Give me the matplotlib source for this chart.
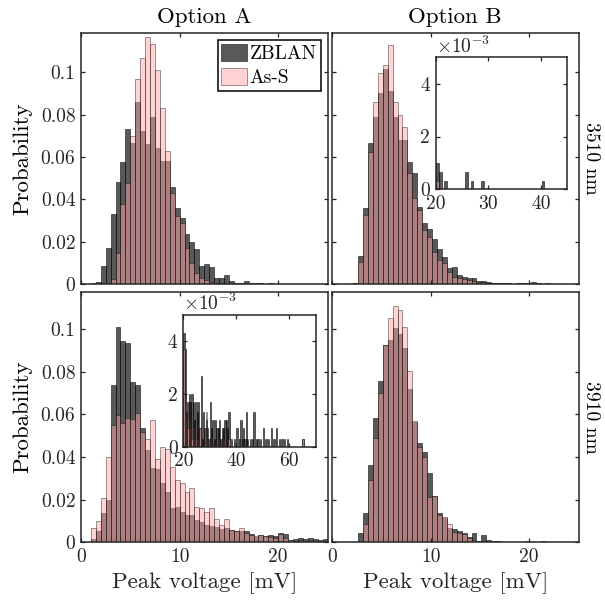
import numpy as np
import matplotlib.pyplot as plt

plt.rcParams['font.family'] = 'cmr10'
plt.rcParams['mathtext.fontset'] = 'cm'
plt.rcParams['axes.unicode_minus'] = False

bin_w = 0.5

# Option A, 3510 nm (bins of 0.5 mV starting at 1.0)
a1_start = 1.0
a1_zblan = [0.0006, 0.0011, 0.0085, 0.0169, 0.0329, 0.0483, 0.0578, 0.0732, 0.0668, 0.0861,
            0.0723, 0.0661, 0.0787, 0.0641, 0.0581, 0.0581, 0.0457, 0.0357, 0.0313, 0.0236,
            0.0200, 0.0164, 0.0085, 0.0094, 0.0079, 0.0027, 0.0027, 0.0043, 0.0016, 0.0006,
            0.0003, 0.0016, 0.0006, 0.0006, 0.0003, 0.0, 0.0003, 0.0]
a1_ass = [0.0, 0.0, 0.0, 0.0003, 0.0022, 0.0145, 0.0378, 0.0476, 0.0699, 0.0969,
          0.1066, 0.1165, 0.1132, 0.1008, 0.0830, 0.0630, 0.0428, 0.0320, 0.0287, 0.0170,
          0.0098, 0.0054, 0.0027, 0.0019, 0.0011, 0.0006]

# Option B, 3510 nm
b1_start = 2.15
b1_zblan = [0.0006, 0.0132, 0.0357, 0.0665, 0.0787, 0.0900, 0.1014, 0.0909, 0.0787, 0.0680,
            0.0680, 0.0578, 0.0526, 0.0365, 0.0290, 0.0258, 0.0211, 0.0164, 0.0129, 0.0074,
            0.0082, 0.0042, 0.0032, 0.0027, 0.0027, 0.0016, 0.0016, 0.0008, 0.0006, 0.0006,
            0.0003, 0.0003, 0.0, 0.0006, 0.0003, 0.0006]
b1_ass = [0.0003, 0.0106, 0.0326, 0.0625, 0.0860, 0.0995, 0.1035, 0.1128, 0.0860, 0.0798,
          0.0740, 0.0523, 0.0405, 0.0350, 0.0255, 0.0220, 0.0153, 0.0113, 0.0101, 0.0058,
          0.0035, 0.0027, 0.0022, 0.0019, 0.0016, 0.0008, 0.0008, 0.0003, 0.0003, 0.0,
          0.0003, 0.0, 0.0, 0.0003, 0.0, 0.0003]
b1_tail_zblan_x = [20.15, 20.65, 21.65, 25.65, 26.65, 28.65, 40.15]
b1_tail_zblan = [0.0010, 0.00067, 0.00033, 0.00067, 0.00033, 0.00033, 0.00033]
b1_tail_ass_x = [20.15]
b1_tail_ass = [0.00033]

# Option A, 3910 nm
a2_start = 0.5
a2_zblan = [0.0003, 0.0016, 0.0053, 0.0139, 0.0198, 0.0738, 0.1010, 0.0944, 0.0936, 0.0753,
            0.0738, 0.0534, 0.0433, 0.0347, 0.0344, 0.0277, 0.0238, 0.0163, 0.0167, 0.0144,
            0.0130, 0.0128, 0.0105, 0.0097, 0.0081, 0.0078, 0.0073, 0.0063, 0.0066, 0.0058,
            0.0053, 0.0053, 0.0053, 0.0037, 0.0027, 0.0034, 0.0031, 0.0034, 0.0031]
a2_ass = [0.0, 0.0066, 0.0100, 0.0209, 0.0402, 0.0550, 0.0597, 0.0558, 0.0581, 0.0577,
          0.0608, 0.0519, 0.0484, 0.0573, 0.0390, 0.0448, 0.0438, 0.0355, 0.0292, 0.0277,
          0.0238, 0.0256, 0.0167, 0.0159, 0.0144, 0.0159, 0.0109, 0.0081, 0.0109, 0.0058,
          0.0053, 0.0066, 0.0042, 0.0034, 0.0031, 0.0034, 0.0031, 0.0027, 0.0022]
a2_tail_zblan_x = [20.0, 20.5, 21.0, 21.5, 22.0, 22.5, 23.0, 23.5, 24.0, 24.5, 25.0, 25.5,
                   26.0, 26.5, 27.0, 27.5, 28.0, 28.5, 29.0, 29.5, 30.0, 30.5, 31.0, 31.5,
                   32.0, 32.5, 33.0, 33.5, 34.0, 34.5, 35.0, 35.5, 36.0, 36.5, 37.0, 38.0,
                   39.0, 40.0, 41.0, 41.5, 42.0, 42.5, 43.0, 43.5, 44.0, 45.0, 46.0, 46.5,
                   47.5, 48.0, 49.0, 50.0, 51.0, 52.0, 53.0, 54.0, 55.0, 56.0, 57.0, 58.0,
                   59.0, 65.0]
a2_tail_zblan = [0.0043, 0.0037, 0.0013, 0.0017, 0.0020, 0.0017, 0.0020, 0.0017, 0.0010, 0.0017,
                 0.0013, 0.0017, 0.0007, 0.0027, 0.0003, 0.0013, 0.0007, 0.0010, 0.0007, 0.0003,
                 0.0017, 0.0007, 0.0010, 0.0003, 0.0010, 0.0007, 0.0007, 0.0010, 0.0003, 0.0007,
                 0.0007, 0.0010, 0.0010, 0.0007, 0.0013, 0.0003, 0.0003, 0.0007, 0.0003, 0.0010,
                 0.0003, 0.0007, 0.0003, 0.0013, 0.0003, 0.0003, 0.0003, 0.0013, 0.0003, 0.0003,
                 0.0003, 0.0007, 0.0003, 0.0003, 0.0007, 0.0003, 0.0007, 0.0003, 0.0003, 0.0003,
                 0.0003, 0.0003]
a2_tail_ass_x = [20.0, 20.5, 21.0, 21.5, 22.0, 22.5, 23.0, 23.5, 24.0, 25.0, 26.0, 28.5,
                 29.0, 30.0, 33.0, 35.0, 37.0, 41.0, 65.0]
a2_tail_ass = [0.0037, 0.0020, 0.0010, 0.0007, 0.0010, 0.0007, 0.0003, 0.0007, 0.0003, 0.0003,
               0.0007, 0.0013, 0.0003, 0.0003, 0.0003, 0.0003, 0.0003, 0.0003, 0.0003]

# Option B, 3910 nm
b2_start = 2.65
b2_zblan = [0.0042, 0.0136, 0.0363, 0.0584, 0.0756, 0.0925, 0.0948, 0.1003, 0.0975, 0.0913,
            0.0719, 0.0566, 0.0464, 0.0425, 0.0323, 0.0219, 0.0139, 0.0113, 0.0066, 0.0061,
            0.0053, 0.0042, 0.0027, 0.0042, 0.0006, 0.0035, 0.0011, 0.0006, 0.0006, 0.0003,
            0.0, 0.0, 0.0003, 0.0, 0.0006, 0.0003, 0.0, 0.0006]
b2_ass = [0.0003, 0.0084, 0.0292, 0.0488, 0.0698, 0.0925, 0.1050, 0.1110, 0.1090, 0.1010,
          0.0803, 0.0569, 0.0448, 0.0402, 0.0214, 0.0219, 0.0128, 0.0120, 0.0084, 0.0050,
          0.0042, 0.0037, 0.0019, 0.0011, 0.0008, 0.0003, 0.0, 0.0003]

W, H = 605, 602
fig = plt.figure(figsize=(W / 100, H / 100), dpi=100)


def pos(l, r, t, b):
    return [l / W, 1 - b / H, (r - l) / W, (b - t) / H]


ink = (0.15, 0.15, 0.15)
zb_style = dict(facecolor=(0, 0, 0, 0.65), edgecolor=(0, 0, 0, 0.6), linewidth=0.6)
as_style = dict(facecolor=(1.0, 0.65, 0.66, 0.5), edgecolor=(0, 0, 0, 0.45), linewidth=0.6)


def style(ax):
    for s in ax.spines.values():
        s.set_linewidth(1.1)
        s.set_color(ink)
    ax.tick_params(direction='in', top=True, right=True, length=3, width=0.9,
                   colors=ink, labelsize=14, pad=4)


def hist(ax, start, zb, ass, tails=None):
    e1 = start + bin_w * np.arange(len(zb))
    e2 = start + bin_w * np.arange(len(ass))
    h1 = ax.bar(e1, zb, width=bin_w, align='edge', label='ZBLAN', **zb_style)
    if tails:
        ax.bar(tails[0], tails[1], width=bin_w, align='edge', **zb_style)
    h2 = ax.bar(e2, ass, width=bin_w, align='edge', label='As-S', **as_style)
    if tails:
        ax.bar(tails[2], tails[3], width=bin_w, align='edge', **as_style)
    return h1, h2


panels = [
    (pos(81, 327.5, 33, 284), a1_start, a1_zblan, a1_ass, None, 0.1185),
    (pos(332, 578.5, 33, 284), b1_start, b1_zblan, b1_ass,
     (b1_tail_zblan_x, b1_tail_zblan, b1_tail_ass_x, b1_tail_ass), 0.1185),
    (pos(81, 327.5, 291.7, 542.3), a2_start, a2_zblan, a2_ass,
     (a2_tail_zblan_x, a2_tail_zblan, a2_tail_ass_x, a2_tail_ass), 0.1175),
    (pos(332, 578.5, 291.7, 542.3), b2_start, b2_zblan, b2_ass, None, 0.1175),
]

axes = []
for i, (p, st, zb, ass, tails, ytop) in enumerate(panels):
    ax = fig.add_axes(p)
    h = hist(ax, st, zb, ass, tails)
    ax.set_xlim(0, 25)
    ax.set_ylim(0, ytop)
    ax.set_xticks([0, 10, 20])
    ax.set_yticks([0, 0.02, 0.04, 0.06, 0.08, 0.1])
    style(ax)
    if i % 2 == 0:
        ax.set_yticklabels(['0', '0.02', '0.04', '0.06', '0.08', '0.1'])
        ax.set_ylabel('Probability', fontsize=16.5, color='black', labelpad=6)
    else:
        ax.set_yticklabels([])
    if i >= 2:
        ax.set_xticklabels(['0', '10', '20'])
        ax.set_xlabel('Peak voltage [mV]', fontsize=16.5, color=ink, labelpad=5)
    else:
        ax.set_xticklabels([])
    if i == 0:
        leg = ax.legend(handles=list(h), loc='upper right', fontsize=14, fancybox=False,
                        framealpha=1, edgecolor='black', borderaxespad=0.35, borderpad=0.2,
                        handlelength=1.3, handleheight=1.0, handletextpad=0.15,
                        labelspacing=0.25)
        leg.get_frame().set_linewidth(1.1)
    axes.append(ax)

axes[0].set_title('Option A', fontsize=16.5, pad=7)
axes[1].set_title('Option B', fontsize=16.5, pad=7)
axes[1].text(1.015, 0.5, '3510 nm', transform=axes[1].transAxes, rotation=-90,
             ha='left', va='center', fontsize=14)
axes[3].text(1.015, 0.5, '3910 nm', transform=axes[3].transAxes, rotation=-90,
             ha='left', va='center', fontsize=14)

insets = [
    (pos(435.7, 567.3, 57.3, 189.3), b1_start, b1_zblan, b1_ass,
     (b1_tail_zblan_x, b1_tail_zblan, b1_tail_ass_x, b1_tail_ass), (20, 45), [20, 30, 40]),
    (pos(183.3, 315.7, 315, 446.7), a2_start, a2_zblan, a2_ass,
     (a2_tail_zblan_x, a2_tail_zblan, a2_tail_ass_x, a2_tail_ass), (20, 70), [20, 40, 60]),
]
for p, st, zb, ass, tails, xl, xt in insets:
    ins = fig.add_axes(p)
    ins.set_facecolor('white')
    hist(ins, st, zb, ass, tails)
    ins.set_xlim(*xl)
    ins.set_ylim(0, 0.005)
    ins.set_xticks(xt)
    ins.set_xticklabels([str(v) for v in xt])
    ins.set_yticks([0, 0.002, 0.004])
    ins.set_yticklabels(['0', '2', '4'])
    style(ins)
    ins.text(0, 1.005, r'$\times 10^{-3}$', transform=ins.transAxes, ha='left',
             va='bottom', fontsize=14, color=ink)

fig.savefig('out.png', dpi=100)
